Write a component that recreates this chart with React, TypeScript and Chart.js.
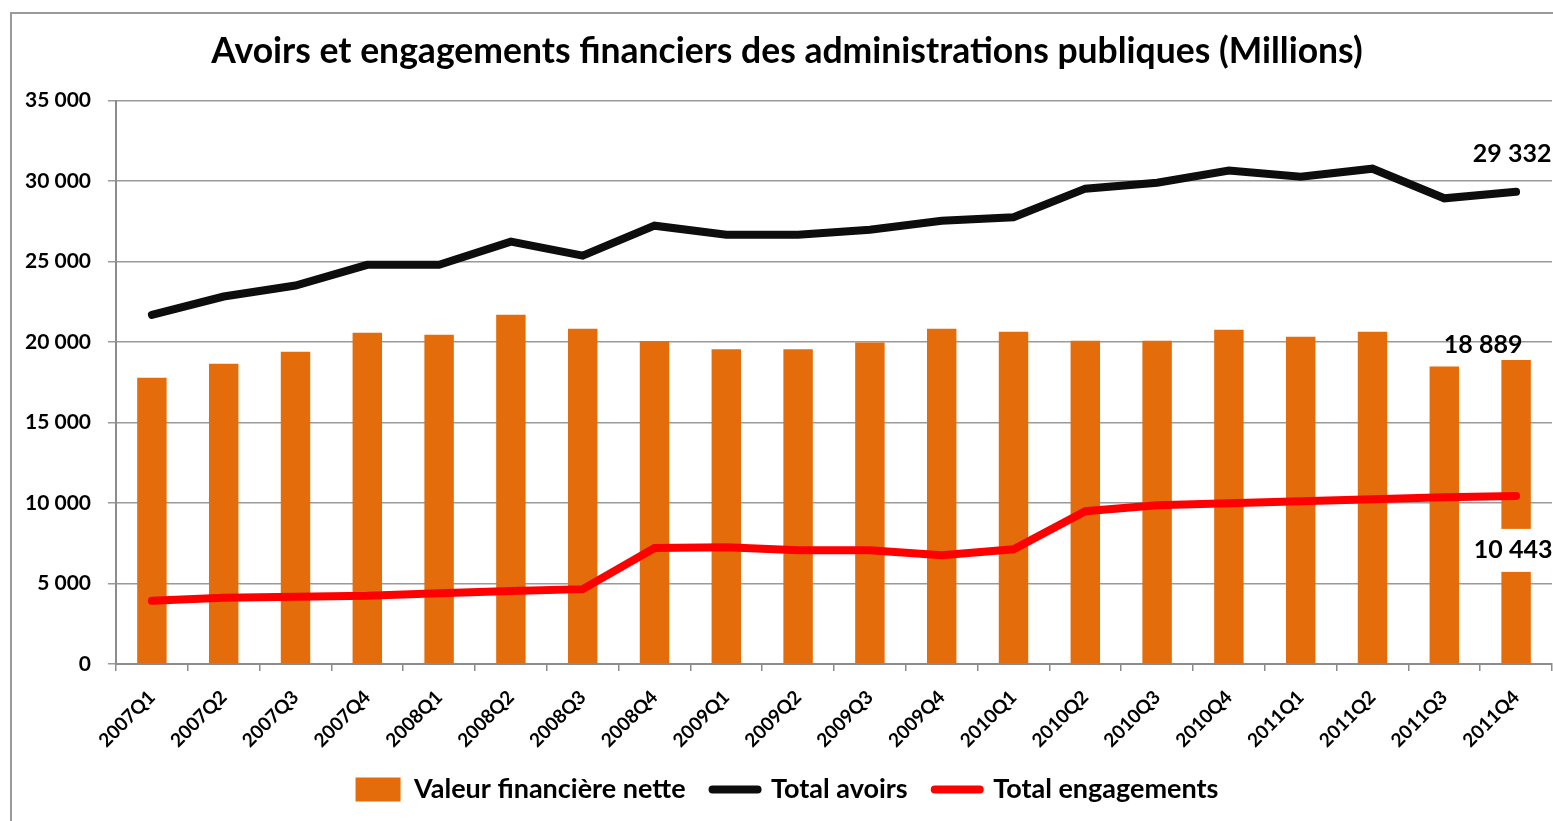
import React, { useEffect, useRef } from "react";
import { Chart, registerables } from "chart.js";

Chart.register(...registerables);

const categories = [
  "2007Q1", "2007Q2", "2007Q3", "2007Q4",
  "2008Q1", "2008Q2", "2008Q3", "2008Q4",
  "2009Q1", "2009Q2", "2009Q3", "2009Q4",
  "2010Q1", "2010Q2", "2010Q3", "2010Q4",
  "2011Q1", "2011Q2", "2011Q3", "2011Q4",
];

const valeurNette = [
  17780, 18650, 19400, 20580,
  20450, 21700, 20830, 20060,
  19560, 19560, 19980, 20830,
  20640, 20080, 20080, 20760,
  20330, 20640, 18480, 18889,
];

const totalAvoirs = [
  21690, 22830, 23510, 24800,
  24800, 26240, 25370, 27230,
  26670, 26670, 26980, 27540,
  27750, 29530, 29900, 30650,
  30270, 30770, 28930, 29332,
];

const totalEngagements = [
  3930, 4110, 4180, 4240,
  4400, 4530, 4650, 7200,
  7260, 7070, 7070, 6760,
  7130, 9490, 9860, 9990,
  10110, 10240, 10360, 10443,
];

const seriesNames = ["Valeur financière nette", "Total avoirs", "Total engagements"];
const seriesColors = ["#E46C0A", "#0D0D0D", "#FF0000"];
const chartTitle = "Avoirs et engagements financiers des administrations publiques (Millions)";

const FONT = "Lato, 'Open Sans', sans-serif";

const fmt = (v: number) => String(Math.round(v)).replace(/\B(?=(\d{3})+(?!\d))/g, " ");

const framePlugin = {
  id: "frame",
  beforeDraw(chart: any) {
    const ctx = chart.ctx;
    ctx.save();
    ctx.fillStyle = "#ffffff";
    ctx.fillRect(0, 0, chart.width, chart.height);
    ctx.strokeStyle = "#9a9a9a";
    ctx.lineWidth = 2;
    ctx.beginPath();
    ctx.moveTo(11, chart.height);
    ctx.lineTo(11, 13);
    ctx.lineTo(chart.width, 13);
    ctx.stroke();
    ctx.restore();
  },
};

const labelPlugin = {
  id: "lastLabels",
  afterDatasetsDraw(chart: any) {
    const ctx = chart.ctx;
    const xs = chart.scales.x;
    const ys = chart.scales.y;
    const last = categories.length - 1;
    const px = xs.getPixelForValue(last);
    ctx.save();
    ctx.font = `bold 25px ${FONT}`;
    ctx.textAlign = "center";
    ctx.textBaseline = "middle";
    ctx.fillStyle = "#000";
    ctx.fillText(fmt(totalAvoirs[last]), px - 4, ys.getPixelForValue(totalAvoirs[last]) - 38);
    ctx.fillText(fmt(valeurNette[last]), px - 33, ys.getPixelForValue(valeurNette[last]) - 15);
    const ey = ys.getPixelForValue(totalEngagements[last]) + 54;
    ctx.fillStyle = "#ffffff";
    ctx.fillRect(px - 47, ey - 21, 100, 43);
    ctx.fillStyle = "#000";
    ctx.fillText(fmt(totalEngagements[last]), px - 3, ey);
    ctx.restore();
  },
};

export default function App() {
  const ref = useRef<HTMLCanvasElement | null>(null);

  useEffect(() => {
    if (!ref.current) return;
    const chart = new Chart(ref.current, {
      type: "bar",
      data: {
        labels: categories,
        datasets: [
          {
            type: "bar",
            label: seriesNames[0],
            data: valeurNette,
            backgroundColor: seriesColors[0],
            barPercentage: 0.41,
            categoryPercentage: 1,
            order: 2,
          },
          {
            type: "line",
            label: seriesNames[1],
            data: totalAvoirs,
            borderColor: seriesColors[1],
            backgroundColor: seriesColors[1],
            borderWidth: 8,
            pointRadius: 0,
            borderCapStyle: "round",
            borderJoinStyle: "miter",
            tension: 0,
            order: 0,
          },
          {
            type: "line",
            label: seriesNames[2],
            data: totalEngagements,
            borderColor: seriesColors[2],
            backgroundColor: seriesColors[2],
            borderWidth: 8,
            pointRadius: 0,
            borderCapStyle: "round",
            borderJoinStyle: "miter",
            tension: 0,
            order: 1,
          },
        ],
      } as any,
      options: {
        animation: false,
        responsive: false,
        devicePixelRatio: 1,
        layout: { padding: { left: 22, right: 1, top: 0, bottom: 8 } },
        plugins: {
          tooltip: { enabled: false },
          title: {
            display: true,
            text: chartTitle,
            color: "#000",
            font: { family: FONT, size: 35.5, weight: "bold", lineHeight: 1.2 },
            padding: { top: 30, bottom: 28 },
          },
          legend: {
            position: "bottom",
            align: "center",
            labels: {
              usePointStyle: true,
              pointStyleWidth: 45,
              boxHeight: 24,
              padding: 27,
              color: "#000",
              font: { family: FONT, size: 27, weight: "bold" },
              generateLabels: () =>
                seriesNames.map((name, i) => ({
                  text: name,
                  datasetIndex: i,
                  hidden: false,
                  fontColor: "#000",
                  fillStyle: i === 0 ? seriesColors[0] : "rgba(0,0,0,0)",
                  strokeStyle: seriesColors[i],
                  lineWidth: i === 0 ? 0 : 8,
                  lineCap: "round",
                  pointStyle: i === 0 ? "rect" : "line",
                })),
            },
          },
        },
        scales: {
          x: {
            offset: true,
            grid: {
              offset: true,
              drawOnChartArea: false,
              drawTicks: true,
              tickLength: 7,
              color: "#8c8c8c",
              lineWidth: 1.5,
            },
            border: { color: "#8c8c8c", width: 2 },
            ticks: {
              color: "#000",
              minRotation: 45,
              maxRotation: 45,
              autoSkip: false,
              padding: 15,
              font: { family: FONT, size: 19, weight: "bold" },
            },
            afterFit: (scale: any) => {
              scale.height = 85;
            },
          },
          y: {
            min: 0,
            max: 35000,
            grid: {
              color: "#9a9a9a",
              lineWidth: 1.5,
              tickLength: 8,
            },
            border: { color: "#8c8c8c", width: 2 },
            ticks: {
              stepSize: 5000,
              padding: 17,
              color: "#000",
              font: { family: FONT, size: 21, weight: "bold" },
              callback: (v: any) => fmt(Number(v)),
            },
            afterFit: (scale: any) => {
              scale.width = 94;
            },
          },
        },
      } as any,
      plugins: [framePlugin, labelPlugin],
    });
    return () => chart.destroy();
  }, []);

  return (
    <div style={{ position: "fixed", left: 0, top: 0, width: 1553, height: 821 }}>
      <canvas ref={ref} width={1553} height={821} />
    </div>
  );
}
